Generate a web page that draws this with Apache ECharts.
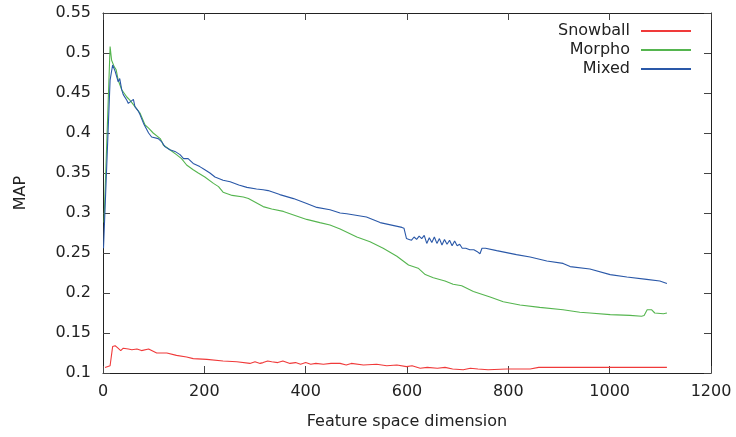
<!DOCTYPE html>
<html>
<head>
<meta charset="utf-8">
<script src="https://cdn.jsdelivr.net/npm/echarts@6/dist/echarts.min.js"></script>
<style>
  html, body { margin: 0; padding: 0; background: #fff; }
  #chart { width: 736px; height: 437px; }
</style>
</head>
<body>
<div id="chart"></div>
<script>
var seriesNames = ['Snowball', 'Morpho', 'Mixed']
var xTicks = [0, 200, 400, 600, 800, 1000, 1200]
var yTicks = [0.1, 0.15, 0.2, 0.25, 0.3, 0.35, 0.4, 0.45, 0.5, 0.55]

// [dimension, MAP]
var snowball = [
    [4, 0.107], [14, 0.109], [19, 0.133], [24, 0.134], [28, 0.132], [35, 0.128], [40, 0.131],
    [50, 0.130], [57, 0.129], [60, 0.127], [67, 0.130], [76, 0.128], [90, 0.130], [106, 0.125],
    [126, 0.125], [145, 0.122], [165, 0.120], [178, 0.118], [205, 0.117], [237, 0.115],
    [264, 0.114], [290, 0.112], [300, 0.114], [310, 0.112], [316, 0.113], [325, 0.115],
    [333, 0.114], [345, 0.113], [355, 0.115], [369, 0.112], [380, 0.113], [390, 0.111],
    [400, 0.113], [410, 0.111], [420, 0.112], [435, 0.111], [450, 0.112], [468, 0.112],
    [480, 0.110], [490, 0.112], [514, 0.110], [540, 0.111], [560, 0.109], [580, 0.110],
    [599, 0.108], [610, 0.109], [626, 0.106], [640, 0.107], [660, 0.106], [675, 0.107],
    [690, 0.105], [711, 0.104], [725, 0.106], [740, 0.105], [760, 0.104], [797, 0.105],
    [843, 0.105], [860, 0.107], [900, 0.107], [1000, 0.107], [1113, 0.107]
]
var morpho = [
    [2, 0.288], [14, 0.508], [17, 0.491], [22, 0.483], [26, 0.479], [30, 0.466], [37, 0.454],
    [47, 0.445], [53, 0.441], [63, 0.433], [73, 0.425], [83, 0.410], [90, 0.406], [99, 0.400],
    [113, 0.393], [119, 0.385], [132, 0.379], [145, 0.373], [155, 0.368], [165, 0.360],
    [178, 0.354], [188, 0.350], [201, 0.345], [218, 0.337], [228, 0.333], [237, 0.326],
    [255, 0.322], [277, 0.320], [287, 0.318], [316, 0.308], [333, 0.305], [356, 0.302],
    [402, 0.292], [428, 0.288], [448, 0.285], [468, 0.280], [501, 0.270], [527, 0.264],
    [553, 0.256], [580, 0.246], [603, 0.235], [622, 0.231], [636, 0.223], [652, 0.219],
    [675, 0.215], [691, 0.211], [708, 0.209], [731, 0.202], [764, 0.195], [790, 0.189],
    [823, 0.185], [862, 0.182], [908, 0.179], [941, 0.176], [961, 0.175], [1001, 0.173],
    [1040, 0.172], [1063, 0.171], [1068, 0.172], [1074, 0.179], [1083, 0.179], [1089, 0.175],
    [1106, 0.174], [1113, 0.175]
]
var mixed = [
    [1, 0.256], [14, 0.466], [19, 0.485], [24, 0.477], [30, 0.464], [33, 0.468], [37, 0.454],
    [40, 0.448], [47, 0.441], [50, 0.437], [53, 0.439], [60, 0.442], [63, 0.433], [70, 0.427],
    [73, 0.423], [80, 0.412], [90, 0.400], [96, 0.395], [109, 0.393], [116, 0.389], [122, 0.383],
    [132, 0.379], [142, 0.377], [152, 0.373], [159, 0.368], [168, 0.368], [178, 0.362],
    [191, 0.358], [201, 0.354], [211, 0.350], [221, 0.345], [237, 0.341], [251, 0.339],
    [268, 0.335], [284, 0.332], [303, 0.330], [316, 0.329], [326, 0.328], [349, 0.323],
    [376, 0.318], [402, 0.312], [422, 0.307], [448, 0.304], [468, 0.300], [481, 0.299],
    [520, 0.295], [547, 0.288], [590, 0.282], [594, 0.281], [599, 0.268], [604, 0.267],
    [609, 0.266], [614, 0.270], [619, 0.267], [624, 0.271], [629, 0.268], [634, 0.272],
    [639, 0.262], [644, 0.269], [649, 0.263], [654, 0.270], [659, 0.262], [664, 0.268],
    [669, 0.260], [674, 0.267], [679, 0.261], [684, 0.266], [689, 0.259], [694, 0.265],
    [699, 0.259], [704, 0.261], [709, 0.256], [716, 0.256], [724, 0.254], [732, 0.254],
    [738, 0.252], [744, 0.249], [748, 0.256], [755, 0.256], [777, 0.253], [816, 0.248],
    [843, 0.245], [876, 0.240], [908, 0.237], [922, 0.233], [961, 0.230], [1001, 0.223],
    [1034, 0.220], [1073, 0.217], [1099, 0.215], [1113, 0.212]
]
var colors = ['#f03a3a', '#55b54f', '#2a58a8']

var myChart = echarts.init(document.querySelector('#chart'))

var font = 'DejaVu Sans'
var textColor = '#222'

var baseX = {
    type: 'value',
    min: xTicks[0],
    max: xTicks[xTicks.length - 1],
    interval: xTicks[1] - xTicks[0],
    splitLine: { show: false },
    axisLine: { onZero: false, lineStyle: { color: '#222', width: 1 } },
    axisTick: { inside: true, length: 7, lineStyle: { color: '#444' } }
}
var baseY = {
    type: 'value',
    min: yTicks[0],
    max: yTicks[yTicks.length - 1],
    interval: 0.05,
    splitLine: { show: false },
    axisLine: { onZero: false, lineStyle: { color: '#222', width: 1 } },
    axisTick: { inside: true, length: 7, lineStyle: { color: '#444' } }
}

var option = {
    animation: false,
    backgroundColor: '#fff',
    grid: { left: 103, right: 25, top: 13, bottom: 64 },
    legend: {
        orient: 'vertical',
        align: 'right',
        right: 40,
        top: 18,
        itemWidth: 50,
        itemHeight: 2,
        itemGap: 3,
        icon: 'rect',
        textStyle: { fontFamily: font, fontSize: 16, color: textColor, padding: [0, 6, 0, 0] },
        data: seriesNames
    },
    xAxis: [
        Object.assign({}, baseX, {
            position: 'bottom',
            name: 'Feature space dimension',
            nameLocation: 'middle',
            nameGap: 41,
            nameTextStyle: { fontFamily: font, fontSize: 16, color: textColor },
            axisLabel: {
                margin: 11, fontFamily: font, fontSize: 16, color: textColor,
                formatter: function(v) { return String(v) }
            }
        }),
        Object.assign({}, baseX, { position: 'top', axisLabel: { show: false } })
    ],
    yAxis: [
        Object.assign({}, baseY, {
            position: 'left',
            name: 'MAP',
            nameLocation: 'middle',
            nameGap: 74,
            nameTextStyle: { fontFamily: font, fontSize: 16, color: textColor },
            axisLabel: { margin: 12, fontFamily: font, fontSize: 16, color: textColor }
        }),
        Object.assign({}, baseY, { position: 'right', axisLabel: { show: false } })
    ],
    series: [snowball, morpho, mixed].map(function(d, i) {
        return {
            name: seriesNames[i],
            type: 'line',
            data: d,
            showSymbol: false,
            symbol: 'none',
            color: colors[i],
            lineStyle: { width: 1.1, color: colors[i] },
            xAxisIndex: 0,
            yAxisIndex: 0
        }
    })
}

myChart.setOption(option)
</script>
</body>
</html>
